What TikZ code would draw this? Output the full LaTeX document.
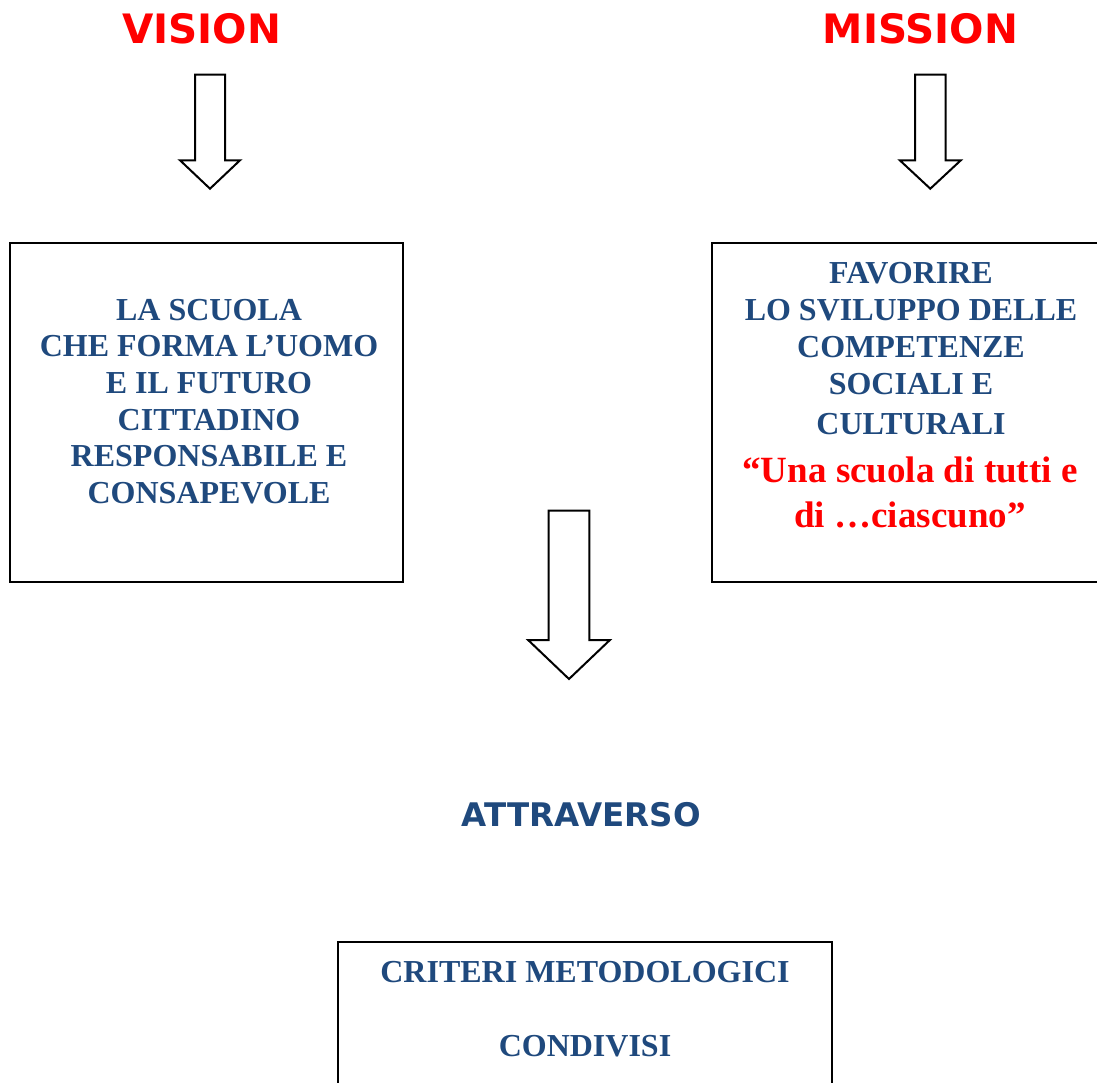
\documentclass[tikz,border=0pt]{standalone}
\usepackage{fontspec}
\setmainfont{Liberation Serif}
\newfontfamily\headfont{DejaVu Sans}
\usetikzlibrary{positioning}

\definecolor{titlered}{RGB}{255,0,0}
\definecolor{schoolblue}{RGB}{31,73,125}

\tikzset{
	heading/.style={font=\headfont\bfseries\fontsize{40.5}{48}\selectfont, text=titlered},
	bluetext/.style={font=\bfseries\fontsize{32}{36.7}\selectfont, text=schoolblue, align=center},
	redtext/.style={font=\bfseries\fontsize{37}{44.4}\selectfont, text=titlered, align=center},
	frame/.style={draw, line width=2.2pt},
	arrowline/.style={draw, line width=2pt, line join=miter, fill=white},
	pics/blockarrow/.style n args={4}{code={
		\draw[arrowline] (-#1,0) -- (#1,0) -- (#1,#3) -- (#2,#3) -- (0,#4) -- (-#2,#3) -- (-#1,#3) -- cycle;
	}}
}

\begin{document}
\begin{tikzpicture}[x=1pt, y=-1pt, inner sep=0pt]
	\useasboundingbox (0,0) rectangle (1097,1083);

	% Headings
	\node [heading] (vision)  at (201.5,28.6) {VISION};
	\node [heading] (mission) at (920.5,28.6) {MISSION};

	% Arrows
	\pic at (210,74.7)    {blockarrow={15}{30}{85.6}{114}};
	\pic at (930.3,74.7)  {blockarrow={15.3}{30.5}{85.6}{114}};
	\pic at (569,510.7)   {blockarrow={20.3}{40.9}{129.3}{168.3}};

	% Boxes
	\draw [frame] (10,243) rectangle (403,582);
	\draw [frame] (712,243) rectangle (1102,582);
	\draw [frame] (338,942) rectangle (832,1100);

	% Box texts
	\node [bluetext] (visiontext) at (209,401.4)
	{LA SCUOLA\\ CHE FORMA L’UOMO\\ E IL FUTURO\\ CITTADINO\\ RESPONSABILE E\\ CONSAPEVOLE};

	\node [bluetext] (missiontext) at (911,348.9)
	{FAVORIRE\\ LO SVILUPPO DELLE\\ COMPETENZE\\ SOCIALI E\\[4pt] CULTURALI};

	\node [redtext] (motto) at (910,492.3)
	{“Una scuola di tutti e\\ di …ciascuno”};

	\node [font=\headfont\bfseries\fontsize{32.5}{38}\selectfont, text=schoolblue] (through) at (581.4,814.7) {ATTRAVERSO};

	\node [bluetext, font=\bfseries\fontsize{32}{74.4}\selectfont] (criteria) at (585,1008.9)
	{CRITERI METODOLOGICI\\ CONDIVISI};

\end{tikzpicture}
\end{document}
